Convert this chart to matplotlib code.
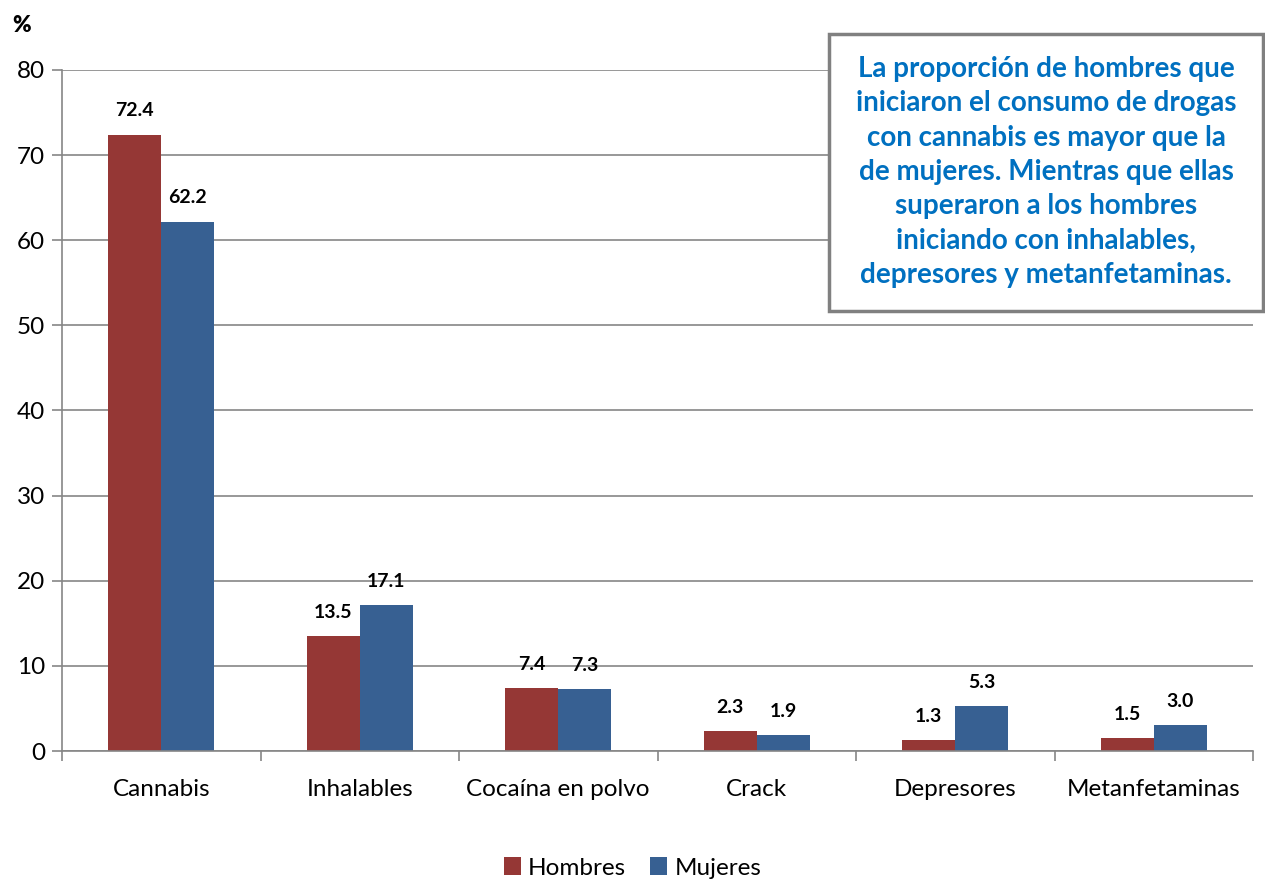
import matplotlib as mpl
mpl.use("Agg")
import matplotlib.pyplot as plt
import numpy as np

categorias = ["Cannabis", "Inhalables", "Cocaína en polvo", "Crack", "Depresores", "Metanfetaminas"]
hombres = [72.4, 13.5, 7.4, 2.3, 1.3, 1.5]
mujeres = [62.2, 17.1, 7.3, 1.9, 5.3, 3.0]
nota = ("La proporción de hombres que\n"
        "iniciaron el consumo de drogas\n"
        "con cannabis es mayor que la\n"
        "de mujeres. Mientras que ellas\n"
        "superaron a los hombres\n"
        "iniciando con inhalables,\n"
        "depresores y metanfetaminas.")

plt.rcParams['font.family'] = ['Lato', 'DejaVu Sans']

rojo = "#953735"
azul = "#376092"
gris = "#868686"

fig = plt.figure(figsize=(12.65, 8.82), dpi=100)
ax = fig.add_axes([62 / 1265, 1 - 751 / 882, (1253 - 62) / 1265, (751 - 70) / 882])

x = np.arange(len(categorias))
w = 0.267
b1 = ax.bar(x - w / 2, hombres, w, color=rojo, label="Hombres")
b2 = ax.bar(x + w / 2, mujeres, w, color=azul, label="Mujeres")

for bars, vals in ((b1, hombres), (b2, mujeres)):
    for r, v in zip(bars, vals):
        ax.annotate(f"{v:.1f}", (r.get_x() + r.get_width() / 2, v),
                    xytext=(0, 11), textcoords="offset points",
                    ha="center", va="bottom", fontsize=14, fontweight="bold")

ax.set_xlim(-0.5, len(categorias) - 0.5)
ax.set_ylim(0, 80)
ax.set_yticks(range(0, 81, 10))
ax.yaxis.grid(True, color=gris, linewidth=1.2)
ax.set_axisbelow(True)

ax.set_xticks(x)
ax.set_xticklabels(categorias, fontsize=17.5)
ax.set_xticks(np.arange(-0.5, len(categorias), 1), minor=True)
ax.tick_params(axis="x", which="major", length=0, pad=20)
ax.tick_params(axis="x", which="minor", length=7, color=gris, width=1.2)
ax.tick_params(axis="y", length=7, color=gris, width=1.2, labelsize=17.5, pad=5)

for s in ("top", "right"):
    ax.spines[s].set_visible(False)
for s in ("left", "bottom"):
    ax.spines[s].set_color(gris)
    ax.spines[s].set_linewidth(1.2)

fig.text(22 / 1265, 1 - 25 / 882, "%", fontsize=16, fontweight="heavy", ha="center", va="center")

fig.patches.append(plt.Rectangle((829 / 1265, 1 - 311 / 882), (1263 - 829) / 1265, (311 - 34) / 882,
                                 transform=fig.transFigure, facecolor="white",
                                 edgecolor="#808080", linewidth=2.5, zorder=1))
fig.text((828 + 1264) / 2 / 1265, 1 - 172 / 882, nota, ha="center", va="center",
         fontsize=20, fontweight="bold", color="#0070C0", linespacing=1.4, zorder=3)

fig.legend(handles=[b1, b2], loc="center", bbox_to_anchor=(0.5, 1 - 868 / 882),
           ncol=2, frameon=False, fontsize=17.5, handlelength=0.7, handleheight=0.7,
           handletextpad=0.3, columnspacing=1.0)

fig.savefig("out.png", dpi=100)
